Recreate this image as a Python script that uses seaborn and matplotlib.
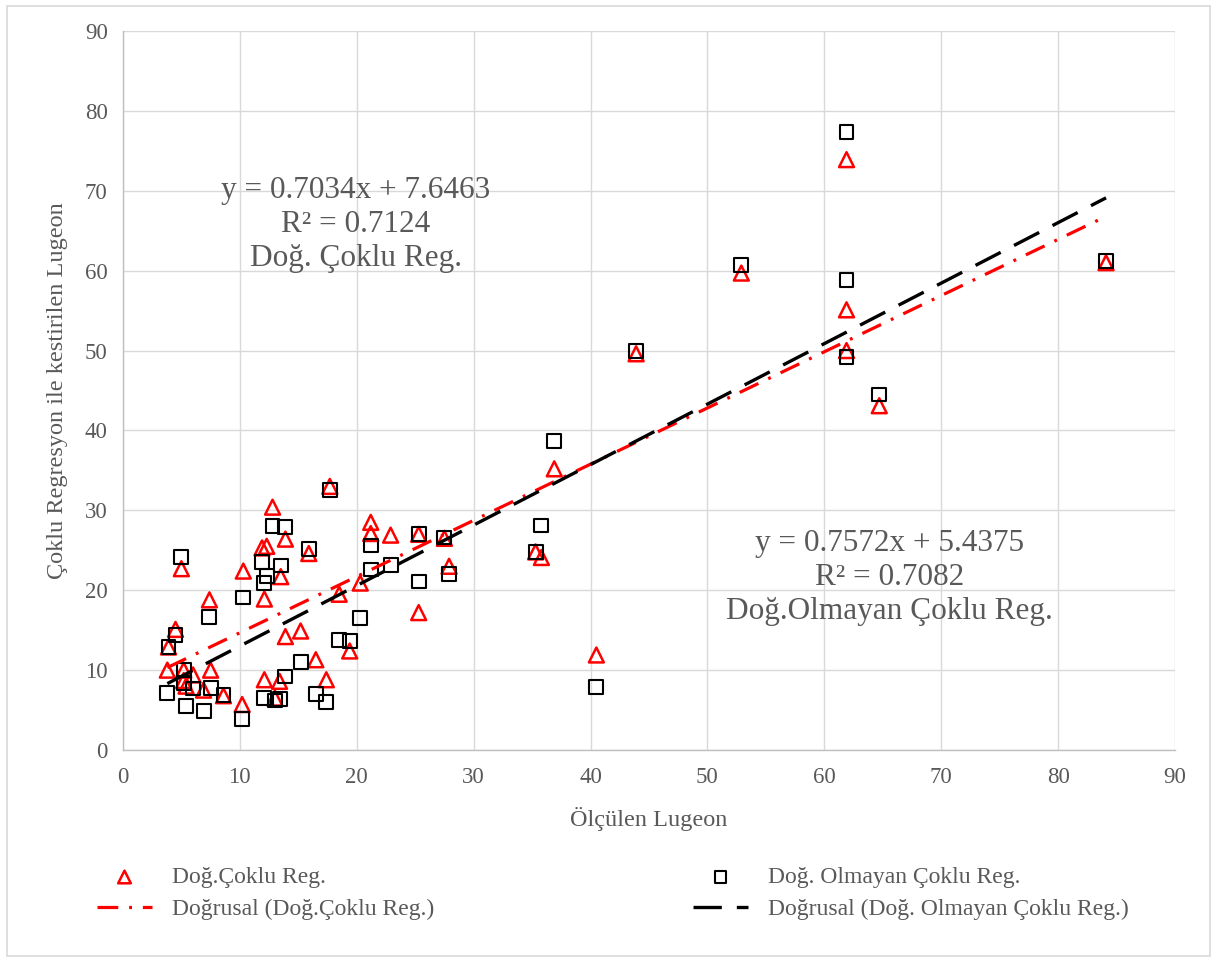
import matplotlib
matplotlib.use("Agg")
import matplotlib.pyplot as plt
from matplotlib.patches import Rectangle
import numpy as np
import pandas as pd
import seaborn as sns

# ── Data ──────────────────────────────────────────────────────────────────────
measured = [3.8, 3.9, 4.5, 5.0, 5.2, 5.2, 5.4, 6.0, 6.9, 7.4,
            7.5, 8.6, 10.2, 10.3, 11.9, 12.1, 12.1, 12.3, 12.8, 13.0,
            13.5, 13.4, 13.9, 13.9, 15.2, 15.9, 16.5, 17.4, 17.7, 18.5,
            19.4, 20.3, 21.2, 21.2, 22.9, 25.3, 25.3, 27.5, 27.9, 35.3,
            35.8, 36.9, 40.5, 43.9, 52.9, 61.9, 61.9, 61.9, 64.7, 84.1]
pred_linear = [10.0, 12.9, 15.1, 22.7, 10.0, 8.7, 8.0, 9.4, 7.5, 18.8,
               10.0, 6.8, 5.7, 22.4, 25.3, 18.9, 8.8, 25.5, 30.4, 6.5,
               21.7, 8.6, 26.4, 14.2, 14.9, 24.6, 11.3, 8.8, 33.0, 19.5,
               12.4, 20.9, 28.5, 27.1, 26.9, 27.0, 17.2, 26.5, 23.0, 24.8,
               24.1, 35.2, 11.9, 49.6, 59.7, 73.9, 55.1, 50.0, 43.1, 61.0]
pred_nonlinear = [7.1, 12.9, 14.4, 24.2, 10.0, 8.4, 5.5, 7.7, 4.9, 16.6,
                  7.8, 6.9, 3.9, 19.1, 23.5, 20.9, 6.5, 21.8, 28.0, 6.2,
                  23.1, 6.4, 27.9, 9.2, 11.0, 25.2, 7.0, 6.0, 32.6, 13.8,
                  13.7, 16.5, 25.6, 22.6, 23.2, 27.0, 21.1, 26.6, 22.0, 24.8,
                  28.1, 38.7, 7.9, 50.0, 60.7, 77.4, 58.8, 49.2, 44.5, 61.2]

# trendline equations printed on the chart
lin_slope, lin_icpt, lin_r2 = 0.7034, 7.6463, 0.7124
nl_slope, nl_icpt, nl_r2 = 0.7572, 5.4375, 0.7082

lbl_lin = "Doğ.Çoklu Reg."
lbl_nl = "Doğ. Olmayan Çoklu Reg."

df = pd.DataFrame({"x": measured, "lin": pred_linear, "nl": pred_nonlinear})
x_end = np.array([df["x"].min(), df["x"].max()])
trend = pd.DataFrame({"x": x_end,
                      "lin": lin_slope * x_end + lin_icpt,
                      "nl": nl_slope * x_end + nl_icpt})

# ── Style ─────────────────────────────────────────────────────────────────────
GREY_TXT = "#595959"
GRID = "#d9d9d9"
sns.set_style("white")
plt.rcParams["font.family"] = ["Liberation Serif", "DejaVu Serif"]

fig = plt.figure(figsize=(12.17, 9.6), dpi=100)
ax = fig.add_axes([0.101, 0.2187, 0.8645, 0.749])

sns.scatterplot(data=df, x="x", y="lin", ax=ax, marker="^", s=115,
                facecolor="none", edgecolor="#ff0000", linewidth=1.8,
                label=lbl_lin, legend=False, zorder=3)
sns.scatterplot(data=df, x="x", y="nl", ax=ax, marker="s", s=100,
                facecolor="none", edgecolor="black", linewidth=1.5,
                label=lbl_nl, legend=False, zorder=3)
sns.lineplot(data=trend, x="x", y="lin", ax=ax, color="#ff0000", lw=2.3,
             linestyle=(0, (6.5, 3.4, 0.9, 3.4)),
             label=f"Doğrusal ({lbl_lin})", legend=False, zorder=4)
sns.lineplot(data=trend, x="x", y="nl", ax=ax, color="black", lw=2.4,
             linestyle=(0, (8.5, 4.5)),
             label=f"Doğrusal ({lbl_nl})", legend=False, zorder=4)

ax.set_xlim(0, 90)
ax.set_ylim(0, 90)
ax.set_xticks(range(0, 91, 10))
ax.set_yticks(range(0, 91, 10))
ax.grid(True, color=GRID, lw=1.0)
ax.set_axisbelow(True)
for side in ("top", "right"):
    ax.spines[side].set_visible(False)
for side in ("left", "bottom"):
    ax.spines[side].set_color("#bfbfbf")
    ax.spines[side].set_linewidth(1.0)
ax.tick_params(length=0, labelsize=16.5, colors=GREY_TXT)
ax.tick_params(axis="y", pad=11)
ax.tick_params(axis="x", pad=12)
ax.set_xlabel("Ölçülen Lugeon", fontsize=17.5, color=GREY_TXT, labelpad=14)
ax.set_ylabel("Çoklu Regresyon ile kestirilen Lugeon", fontsize=17.5,
              color=GREY_TXT, labelpad=12)

ax.text(19.9, 65.8,
        f"y = {lin_slope}x + {lin_icpt}\nR² = {lin_r2}\nDoğ. Çoklu Reg.",
        ha="center", va="center", fontsize=22.5, color=GREY_TXT, linespacing=1.22)
ax.text(65.6, 21.6,
        f"y = {nl_slope}x + {nl_icpt}\nR² = {nl_r2}\nDoğ.Olmayan Çoklu Reg.",
        ha="center", va="center", fontsize=22.5, color=GREY_TXT, linespacing=1.22)

# legend, two columns below the plot
h, l = ax.get_legend_handles_labels()
leg_kw = dict(frameon=False, fontsize=17, handlelength=2.33, handletextpad=0.85,
              labelspacing=0.45, borderpad=0, borderaxespad=0, labelcolor=GREY_TXT,
              loc="center left", markerscale=0.85)
fig.legend([h[0], h[2]], [l[0], l[2]], bbox_to_anchor=(0.0797, 0.0693), **leg_kw)
fig.legend([h[1], h[3]], [l[1], l[3]], bbox_to_anchor=(0.5694, 0.0693), **leg_kw)

fig.patches.append(Rectangle((0.006, 0.004), 0.988, 0.99, transform=fig.transFigure,
                             fill=False, edgecolor=GRID, lw=1.2))

fig.savefig("out.png", dpi=100, facecolor="white")
